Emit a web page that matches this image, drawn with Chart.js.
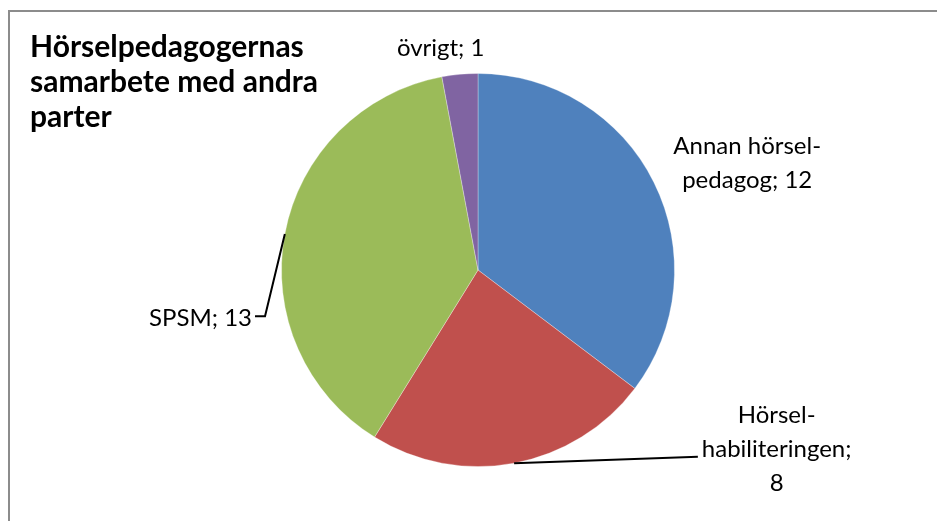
<!DOCTYPE html>
<html>
<head>
<meta charset="utf-8">
<script src="https://cdn.jsdelivr.net/npm/chart.js@4.4.0/dist/chart.umd.min.js"></script>
<style>
    html, body { margin: 0; padding: 0; background: #fff; }
    #wrap { position: relative; width: 937px; height: 521px; }
    #frame {
        position: absolute; left: 8px; top: 10px; right: 0; bottom: 0;
        border-top: 2px solid #8c8c8c; border-left: 2px solid #8c8c8c;
    }
    #title {
        position: absolute; left: 30px; top: 28px;
        font-family: Lato, "Noto Sans", sans-serif; font-weight: bold;
        font-size: 30px; line-height: 35px; color: #000;
    }
</style>
</head>
<body>
<div id="wrap">
    <div id="frame"></div>
    <canvas id="pie" width="937" height="521"></canvas>
    <div id="title">Hörselpedagogernas<br>samarbete med andra<br>parter</div>
</div>
<script>
// data
let categories = ['Annan hörsel-pedagog', 'Hörsel-habiliteringen', 'SPSM', 'övrigt'];
let values = [12, 8, 13, 1];
let sliceColors = ['#4F81BD', '#C0504D', '#9BBB59', '#8064A2'];

// how each label is broken into lines, and where it sits (offset from pie centre, in radii)
let labelLines = [
    ['Annan hörsel-', 'pedagog; 12'],
    ['Hörsel-', 'habiliteringen;', '8'],
    ['SPSM; 13'],
    ['övrigt; 1']
];
let labelPos = [
    {dx: 1.37, dy: -0.545, align: 'center'},
    {dx: 1.52, dy: 0.91, align: 'center', leader: true},
    {dx: -1.15, dy: 0.245, align: 'right', leader: true},
    {dx: -0.19, dy: -1.13, align: 'center'}
];

const labelPlugin = {
    id: 'labels',
    afterDatasetsDraw(chart) {
        const ctx = chart.ctx;
        const arcs = chart.getDatasetMeta(0).data;
        ctx.save();
        ctx.font = '24px Lato, "Noto Sans", sans-serif';
        ctx.fillStyle = '#000';
        ctx.textBaseline = 'middle';
        const lineH = 34;
        arcs.forEach((arc, i) => {
            const cx = arc.x, cy = arc.y, r = arc.outerRadius;
            const p = labelPos[i];
            const lx = cx + p.dx * r;
            const ly = cy + p.dy * r;
            const lines = labelLines[i];
            ctx.textAlign = p.align;
            lines.forEach((t, k) => {
                ctx.fillText(t, lx, ly + (k - (lines.length - 1) / 2) * lineH);
            });
            if (p.leader) {
                // leader starts on the rim, in the middle of the slice
                const mid = (arc.startAngle + arc.endAngle) / 2;
                const px = cx + Math.cos(mid) * r, py = cy + Math.sin(mid) * r;
                ctx.strokeStyle = '#000';
                ctx.lineWidth = 2;
                ctx.beginPath();
                if (i === 1) {
                    const w = ctx.measureText(lines[1]).width;
                    ctx.moveTo(px, py);
                    ctx.lineTo(lx - w / 2 - 4, ly + 8);
                } else {
                    ctx.moveTo(lx + 3, ly - 2);
                    ctx.lineTo(lx + 13, ly - 2);
                    ctx.lineTo(px, py);
                }
                ctx.stroke();
            }
        });
        ctx.restore();
    }
};

new Chart(document.getElementById('pie'), {
    type: 'pie',
    data: {
        labels: categories,
        datasets: [{
            data: values,
            backgroundColor: sliceColors,
            borderColor: 'rgba(255,255,255,0.3)',
            borderWidth: 1
        }]
    },
    options: {
        responsive: false,
        animation: false,
        rotation: 0,
        layout: {padding: {left: 281, right: 262, top: 73, bottom: 54}},
        plugins: {
            legend: {display: false},
            tooltip: {enabled: false},
            title: {display: false}
        }
    },
    plugins: [labelPlugin]
});
</script>
</body>
</html>
